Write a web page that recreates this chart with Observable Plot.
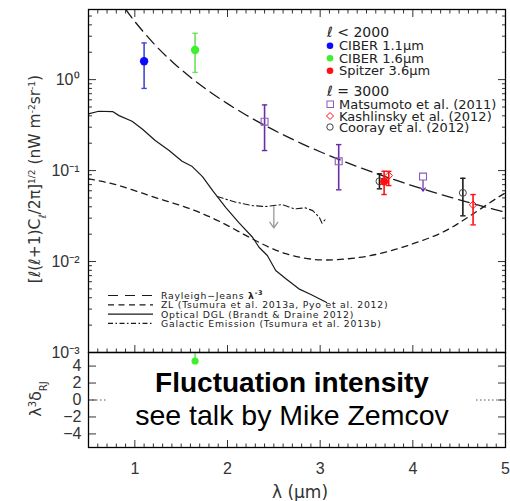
<!DOCTYPE html>
<html><head><meta charset="utf-8">
<script src="https://cdn.jsdelivr.net/npm/d3@7"></script>
<script src="https://cdn.jsdelivr.net/npm/@observablehq/plot@0.6"></script>
<style>
body{margin:0;background:#fff;}
#wrap{position:relative;width:510px;height:501px;overflow:hidden;background:#fff;}
#wrap svg{position:absolute;left:0;overflow:visible;}
</style></head><body><div id="wrap"></div>
<script>
// ---------- data ----------
// Rayleigh-Jeans lambda^-3 curve
const rjLam = [0.9, 1.0, 1.2, 1.4, 1.6, 1.8, 2.0, 2.2, 2.4, 2.6, 2.8, 3.0, 3.2, 3.4, 3.6, 3.8, 4.0, 4.2, 4.4, 4.6, 4.8, 5.0];
const rjVal = [5.97, 4.35, 2.52, 1.585, 1.062, 0.746, 0.544, 0.409, 0.315, 0.2475, 0.198, 0.161, 0.1328, 0.1107, 0.0932, 0.0793, 0.068, 0.0587, 0.0511, 0.0447, 0.0393, 0.0348];
// ZL
const zlLam = [0.50, 0.83, 1.19, 1.55, 1.91, 2.27, 2.63, 2.99, 3.29, 3.54, 3.80, 4.05, 4.30, 4.51, 4.73, 4.95, 5.0];
const zlVal = [0.0811, 0.0684, 0.0518, 0.0395, 0.0277, 0.0177, 0.0122, 0.01045, 0.0107, 0.0116, 0.0135, 0.0163, 0.0205, 0.027, 0.0379, 0.0531, 0.056];
// Optical DGL
const dglLam = [0.50, 0.61, 0.76, 0.83, 0.97, 1.08, 1.22, 1.37, 1.51, 1.62, 1.73, 1.84, 1.98, 2.12, 2.27, 2.34, 2.43, 2.52, 2.63, 2.77, 2.90, 3.07];
const dglVal = [0.420, 0.449, 0.445, 0.402, 0.348, 0.287, 0.214, 0.166, 0.1265, 0.1107, 0.0859, 0.0603, 0.0395, 0.027, 0.0185, 0.01435, 0.01164, 0.00796, 0.00646, 0.00501, 0.00434, 0.00354];
// Galactic emission
const galLam = [1.89, 2.09, 2.27, 2.41, 2.59, 2.72, 2.84, 2.92, 2.99, 3.02, 3.06];
const galVal = [0.0518, 0.0449, 0.0412, 0.0402, 0.0423, 0.0379, 0.0389, 0.0363, 0.0307, 0.0264, 0.0294];
const galLimLam = [2.50];
const galLimFrom = [0.0402];
const galLimTo = [0.0234];
// CIBER (l < 2000)
const ciber11 = {lam: [1.10], val: [1.59], lo: [0.80], hi: [2.53]};
const ciber16 = {lam: [1.65], val: [2.12], lo: [1.20], hi: [3.23]};
// Spitzer 3.6um
const spitzerLam = [3.69];
const spitzerVal = [0.0757];
const spitzerLo = [0.0545];
const spitzerHi = [0.0983];
// Matsumoto et al. (2011)
const matsLam = [2.40, 3.20];
const matsVal = [0.345, 0.1265];
const matsLo = [0.166, 0.0614];
const matsHi = [0.527, 0.193];
const matsLimLam = [4.11];
const matsLimVal = [0.0859];
const matsLimTo = [0.0593];
// Kashlinsky et al. (2012)
const kashLam = [3.74, 4.65];
const kashVal = [0.088, 0.042];
const kashLo = [0.0684, 0.0253];
const kashHi = [0.098, 0.0545];
// Cooray et al. (2012)
const coorLam = [3.64, 4.54];
const coorVal = [0.0763, 0.0569];
const coorLo = [0.063, 0.0318];
const coorHi = [0.092, 0.0823];
// residual panel
const resLam = [1.65];
const resVal = [4.6];
const resHi = [7.5];
// ticks
const xMajor = [1, 2, 3, 4, 5];
const xTickLabels = ["1", "2", "3", "4", "5"];
const yMajor = [0.001, 0.01, 0.1, 1];
const yTickLabels = ["10⁻³", "10⁻²", "10⁻¹", "10⁰"];
const resTicks = [-4, -2, 0, 2, 4];
const resTickLabels = ["−4", "−2", "0", "2", "4"];

// ---------- helpers ----------
const rows = (o) => o.lam.map((l, i) => Object.fromEntries(Object.keys(o).map(k => [k, o[k][i]])));
const curve = (lam, val) => lam.map((l, i) => ({lam: l, val: val[i]}));
const xMinor = d3.range(0.6, 5.0001, 0.1).filter(v => Math.abs(v - Math.round(v)) > 0.01);
const yMinor = [];
for (const e of [-3, -2, -1, 0]) for (let m = 2; m <= 9; m++) { const v = m * 10 ** e; if (v <= 5.9) yMinor.push(v); }
const cap = {draw(ctx, size) { const w = Math.sqrt(size / Math.PI); ctx.moveTo(-w, 0); ctx.lineTo(w, 0); }};

const BLUE = "#0a0aff", BLUE_E = "#4646d6", GREEN = "#3ef02e", GREEN_E = "#6ee05e";
const RED = "#ff1010", PURPLE = "#6c2ca6", PURPLE_L = "#8a5cb8", BLACK = "#1a1a1a";

function errMarks(data, color, capR = 2.7) {
  return [
    Plot.ruleX(data, {x: "lam", y1: "lo", y2: "hi", stroke: color, strokeWidth: 1.6, clip: true}),
    Plot.dot(data, {x: "lam", y: "lo", symbol: cap, r: capR, fill: "none", stroke: color, strokeWidth: 1.4, clip: true}),
    Plot.dot(data, {x: "lam", y: "hi", symbol: cap, r: capR, fill: "none", stroke: color, strokeWidth: 1.4, clip: true})
  ];
}

const ciber11Rows = rows(ciber11), ciber16Rows = rows(ciber16);
const spitzer = rows({lam: spitzerLam, val: spitzerVal, lo: spitzerLo, hi: spitzerHi});
const mats = rows({lam: matsLam, val: matsVal, lo: matsLo, hi: matsHi});
const matsLim = rows({lam: matsLimLam, val: matsLimVal, to: matsLimTo});
const kash = rows({lam: kashLam, val: kashVal, lo: kashLo, hi: kashHi});
const coor = rows({lam: coorLam, val: coorVal, lo: coorLo, hi: coorHi});
const galLim = rows({lam: galLimLam, from: galLimFrom, to: galLimTo});
const res = rows({lam: resLam, val: resVal, hi: resHi});

const FONT = "'Liberation Sans', Arial, sans-serif";
const noLab = () => "";

const main = Plot.plot({
  width: 510, height: 362,
  marginLeft: 88, marginRight: 5, marginTop: 9, marginBottom: 10,
  style: {background: "transparent", fontFamily: FONT, color: "#333"},
  x: {domain: [0.5, 5]},
  y: {type: "log", domain: [0.001, 5.9]},
  marks: [
    Plot.line(curve(rjLam, rjVal), {x: "lam", y: "val", stroke: BLACK, strokeWidth: 1.3, strokeDasharray: "11,6", curve: "natural", clip: true}),
    Plot.line(curve(zlLam, zlVal), {x: "lam", y: "val", stroke: BLACK, strokeWidth: 1.3, strokeDasharray: "6,5", curve: "natural", clip: true}),
    Plot.line(curve(dglLam, dglVal), {x: "lam", y: "val", stroke: BLACK, strokeWidth: 1.2, clip: true}),
    Plot.line(curve(galLam, galVal), {x: "lam", y: "val", stroke: BLACK, strokeWidth: 1.1, strokeDasharray: "6,3,1.5,3", clip: true}),
    Plot.arrow(galLim, {x1: "lam", y1: "from", x2: "lam", y2: "to", stroke: "#999", strokeWidth: 1.3, headLength: 8, headAngle: 70}),
    ...errMarks(ciber11Rows, BLUE_E),
    ...errMarks(ciber16Rows, GREEN_E),
    ...errMarks(mats, PURPLE),
    ...errMarks(coor, BLACK),
    ...errMarks(spitzer, RED),
    ...errMarks(kash, RED),
    Plot.dot(ciber11Rows, {x: "lam", y: "val", r: 4.2, fill: BLUE}),
    Plot.dot(ciber16Rows, {x: "lam", y: "val", r: 4.2, fill: GREEN}),
    Plot.dot(mats, {x: "lam", y: "val", symbol: "square", r: 3.9, fill: "none", stroke: PURPLE_L, strokeWidth: 1.1}),
    Plot.arrow(matsLim, {x1: "lam", y1: "val", x2: "lam", y2: "to", stroke: PURPLE, strokeWidth: 1.2, headLength: 5, headAngle: 70, insetStart: 3.5}),
    Plot.dot(matsLim, {x: "lam", y: "val", symbol: "square", r: 3.9, fill: "white", stroke: PURPLE_L, strokeWidth: 1.1}),
    Plot.dot(coor, {x: "lam", y: "val", symbol: "circle", r: 3.5, fill: "none", stroke: "#444", strokeWidth: 1}),
    Plot.dot(spitzer, {x: "lam", y: "val", r: 4, fill: RED}),
    Plot.dot(kash, {x: "lam", y: "val", symbol: "diamond2", r: 3.4, fill: "none", stroke: RED, strokeWidth: 1}),
    // axes: inward ticks on all sides
    Plot.axisX({anchor: "bottom", ticks: xMajor, tickSize: -7, tickFormat: noLab, label: null}),
    Plot.axisX({anchor: "bottom", ticks: xMinor, tickSize: -3.5, tickFormat: noLab, label: null}),
    Plot.axisX({anchor: "top", ticks: xMajor, tickSize: -7, tickFormat: noLab, label: null}),
    Plot.axisX({anchor: "top", ticks: xMinor, tickSize: -3.5, tickFormat: noLab, label: null}),
    Plot.axisY({anchor: "left", ticks: yMajor, tickSize: -8, tickFormat: noLab, label: null}),
    Plot.axisY({anchor: "left", ticks: yMinor, tickSize: -4, tickFormat: noLab, label: null}),
    Plot.axisY({anchor: "right", ticks: yMajor, tickSize: -8, tickFormat: noLab, label: null}),
    Plot.axisY({anchor: "right", ticks: yMinor, tickSize: -4, tickFormat: noLab, label: null}),
    Plot.axisY({anchor: "left", ticks: yMajor, tickSize: 0, tickPadding: 9, fontSize: 16, tickFormat: d => yTickLabels[yMajor.indexOf(d)], label: null}),
    Plot.frame({stroke: "#000", strokeWidth: 1.3})
  ]
});
main.style.top = "0px";

const bottom = Plot.plot({
  width: 510, height: 154,
  marginLeft: 88, marginRight: 5, marginTop: 5, marginBottom: 54,
  style: {background: "transparent", fontFamily: FONT, color: "#333"},
  x: {domain: [0.5, 5]},
  y: {domain: [-5.6, 5.6]},
  marks: [
    Plot.ruleY([0], {stroke: "#555", strokeDasharray: "1.5,2.5"}),
    Plot.ruleX(res, {x: "lam", y1: "val", y2: "hi", stroke: GREEN_E, strokeWidth: 1.6, clip: true}),
    Plot.dot(res, {x: "lam", y: "val", r: 3.6, fill: GREEN}),
    Plot.axisX({anchor: "bottom", ticks: xMajor, tickSize: -7, tickFormat: noLab, label: null}),
    Plot.axisX({anchor: "bottom", ticks: xMinor, tickSize: -3.5, tickFormat: noLab, label: null}),
    Plot.axisX({anchor: "bottom", ticks: xMajor, tickSize: 0, tickPadding: 15, fontSize: 16, tickFormat: d => xTickLabels[xMajor.indexOf(d)], label: null}),
    Plot.axisY({anchor: "left", ticks: resTicks, tickSize: -8, tickFormat: noLab, label: null}),
    Plot.axisY({anchor: "right", ticks: resTicks, tickSize: -8, tickFormat: noLab, label: null}),
    Plot.axisY({anchor: "left", ticks: resTicks, tickSize: 0, tickPadding: 7, fontSize: 16, tickFormat: d => resTickLabels[resTicks.indexOf(d)], label: null}),
    Plot.frame({stroke: "#000", strokeWidth: 1.3})
  ]
});
bottom.style.top = "347px";

const wrap = document.getElementById("wrap");
wrap.append(main, bottom);

// ---------- annotation layer: titles, legends, text box ----------
const ann = d3.create("svg").attr("width", 510).attr("height", 501).style("top", "0px").style("pointer-events", "none");
const TXT = "#333";
// y title (main)
{
  const t = ann.append("text").attr("transform", "translate(40,179) rotate(-90)").attr("text-anchor", "middle")
    .style("font-family", "'DejaVu Sans', sans-serif").style("font-size", "15.5px").attr("fill", TXT);
  t.append("tspan").text("[ℓ(ℓ+1)C");
  t.append("tspan").attr("baseline-shift", "sub").style("font-size", "10px").text("ℓ");
  t.append("tspan").text("/2π]");
  t.append("tspan").attr("baseline-shift", "super").style("font-size", "9px").text("1/2");
  t.append("tspan").text(" (nW m");
  t.append("tspan").attr("baseline-shift", "super").style("font-size", "9px").text("-2");
  t.append("tspan").text("sr");
  t.append("tspan").attr("baseline-shift", "super").style("font-size", "9px").text("-1");
  t.append("tspan").text(")");
}
// y title (residual)
{
  const t = ann.append("text").attr("transform", "translate(41,399) rotate(-90)").attr("text-anchor", "middle")
    .style("font-family", "'DejaVu Sans', sans-serif").style("font-size", "16px").attr("fill", TXT);
  t.append("tspan").text("λ");
  t.append("tspan").attr("baseline-shift", "super").style("font-size", "10px").text("3");
  t.append("tspan").text("δ");
  t.append("tspan").attr("baseline-shift", "sub").style("font-size", "10px").text("RJ");
}
// x title
ann.append("text").attr("x", 300).attr("y", 498).attr("text-anchor", "middle")
  .style("font-family", "'DejaVu Sans', sans-serif").style("font-size", "17px").attr("fill", TXT).text("λ  (μm)");

// top-right legend
{
  const g = ann.append("g").style("font-family", "'DejaVu Sans', sans-serif").style("font-size", "13px").attr("fill", "#222");
  const head = (y, s) => g.append("text").attr("x", 327).attr("y", y + 5).style("font-size", "14px").text(s);
  const row = (y, s) => g.append("text").attr("x", 339).attr("y", y + 4.5).text(s);
  head(31.5, "ℓ < 2000");
  g.append("circle").attr("cx", 330).attr("cy", 45.7).attr("r", 3.3).attr("fill", BLUE);
  row(45.7, "CIBER 1.1μm");
  g.append("circle").attr("cx", 330).attr("cy", 58.3).attr("r", 3.3).attr("fill", GREEN);
  row(58.3, "CIBER 1.6μm");
  g.append("circle").attr("cx", 330).attr("cy", 70.7).attr("r", 3.3).attr("fill", RED);
  row(70.7, "Spitzer 3.6μm");
  head(91, "ℓ = 3000");
  g.append("rect").attr("x", 327).attr("y", 101).attr("width", 6.5).attr("height", 6.5).attr("fill", "none").attr("stroke", PURPLE_L);
  row(104.3, "Matsumoto et al. (2011)");
  g.append("path").attr("d", "M330,112.5L333.5,116L330,119.5L326.5,116Z").attr("fill", "none").attr("stroke", RED);
  row(116, "Kashlinsky et al. (2012)");
  g.append("circle").attr("cx", 330).attr("cy", 127).attr("r", 3.2).attr("fill", "none").attr("stroke", "#444");
  row(127, "Cooray et al. (2012)");
}
// bottom-left legend
{
  const g = ann.append("g").style("font-family", "'DejaVu Sans', sans-serif").style("font-size", "9.3px")
    .style("letter-spacing", "0.75px").attr("fill", "#222");
  const items = [
    {y: 295.5, dash: "10,7", label: null},
    {y: 304.8, dash: "6,4.5", label: "ZL (Tsumura et al. 2013a, Pyo et al. 2012)"},
    {y: 314.1, dash: null, label: "Optical DGL (Brandt & Draine 2012)"},
    {y: 323.4, dash: "5,2.5,1.5,2.5", label: "Galactic Emission (Tsumura et al. 2013b)"}
  ];
  for (const it of items) {
    const l = g.append("line").attr("x1", 108).attr("x2", 153).attr("y1", it.y).attr("y2", it.y).attr("stroke", BLACK).attr("stroke-width", 1.2);
    if (it.dash) l.attr("stroke-dasharray", it.dash);
    if (it.label) g.append("text").attr("x", 161).attr("y", it.y + 3.4).text(it.label);
  }
  const t = g.append("text").attr("x", 161).attr("y", 298.9);
  t.append("tspan").text("Rayleigh−Jeans ");
  t.append("tspan").style("font-weight", "bold").text("λ");
  t.append("tspan").attr("baseline-shift", "super").style("font-size", "6.5px").style("font-weight", "bold").text("-3");
}
// text box in residual panel
ann.append("rect").attr("x", 106).attr("y", 366).attr("width", 370).attr("height", 72).attr("fill", "#fff");
ann.append("text").attr("x", 292).attr("y", 392).attr("text-anchor", "middle")
  .style("font-family", FONT).style("font-size", "28px").style("font-weight", "bold").attr("fill", "#000").text("Fluctuation intensity");
ann.append("text").attr("x", 292).attr("y", 425).attr("text-anchor", "middle")
  .style("font-family", FONT).style("font-size", "28.5px").attr("fill", "#000").text("see talk by Mike Zemcov");

wrap.append(ann.node());
</script></body></html>
